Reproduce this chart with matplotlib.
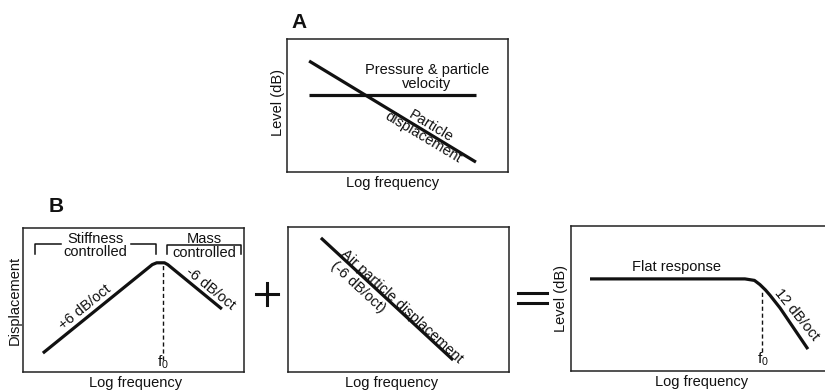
import matplotlib
matplotlib.use("Agg")
import matplotlib.pyplot as plt
from matplotlib.lines import Line2D

plt.rcParams['font.family'] = ['Liberation Sans', 'DejaVu Sans']
plt.rcParams['mathtext.default'] = 'regular'

W, H = 825, 390

# ---------------- data (x: log frequency in octaves, y: level in dB) -------------
# Panel A
a_disp_logf = [1.0, 8.55]
a_disp_level = [37.0, 3.3]
a_flat_logf = [1.0, 8.55]
a_flat_level = [25.7, 25.7]

# Panel B1: diaphragm displacement (resonant system)
b1_logf = [0.90, 5.85, 6.05, 6.40, 6.55, 9.00]
b1_disp = [6.3, 35.8, 36.4, 36.4, 35.8, 21.0]
b1_f0 = 6.33
b1_f0_range = [4.0, 36.3]

# Panel B2: air particle displacement
b2_logf = [1.49, 7.47]
b2_disp = [44.7, 4.0]

# Panel B3: resulting response
b3_logf = [0.86, 7.87, 8.30, 8.55, 8.80, 9.00, 9.46, 10.72]
b3_level = [30.7, 30.7, 30.2, 28.8, 27.0, 25.3, 21.0, 7.3]
b3_f0 = 8.64
b3_f0_range = [6.3, 26.3]

FS = 10.5

fig = plt.figure(figsize=(W / 100, H / 100), dpi=100)


def add_box(l, t, r, b):
    ax = fig.add_axes([l / W, 1 - b / H, (r - l) / W, (b - t) / H])
    ax.set_xticks([])
    ax.set_yticks([])
    for s in ax.spines.values():
        s.set_linewidth(1.1)
        s.set_color('#222222')
    return ax


def ftext(x, y, s, **kw):
    kw.setdefault('ha', 'center')
    kw.setdefault('va', 'center')
    kw.setdefault('fontsize', FS)
    kw.setdefault('color', '#111111')
    fig.text(x / W, 1 - y / H, s, **kw)


def fline(xs, ys, lw=1.1, **kw):
    fig.add_artist(Line2D([x / W for x in xs], [1 - y / H for y in ys],
                          lw=lw, color=kw.pop('color', '#111111'), **kw))


LW = 2.3
PX_PER_OCT = 22.1
PX_PER_DB = 3.0

# ---------------- Panel A ----------------
axA = add_box(287, 39, 508, 172)
axA.set_xlim(0, 221 / PX_PER_OCT)
axA.set_ylim(0, 133 / PX_PER_DB)
axA.plot(a_disp_logf, a_disp_level, color='#111111', lw=LW, solid_capstyle='butt')
axA.plot(a_flat_logf, a_flat_level, color='#111111', lw=LW, solid_capstyle='butt')
ftext(299, 22, 'A', fontsize=15, fontweight='bold')
ftext(427, 77, 'Pressure & particle\nvelocity', linespacing=0.95)
ftext(427, 132, 'Particle\ndisplacement', rotation=-31, rotation_mode='anchor',
      linespacing=0.95)
ftext(278, 102, 'Level (dB)', rotation=90)
ftext(393, 183, 'Log frequency')

# ---------------- Panel B1 ----------------
axB1 = add_box(23, 228, 244, 372)
axB1.set_xlim(0, 221 / PX_PER_OCT)
axB1.set_ylim(0, 144 / PX_PER_DB)
axB1.plot(b1_logf, b1_disp, color='#111111', lw=LW, solid_joinstyle='round',
          solid_capstyle='butt')
axB1.plot([b1_f0, b1_f0], b1_f0_range, color='#111111', lw=1.0, ls=(0, (3, 2)))
ftext(56, 207, 'B', fontsize=15, fontweight='bold')
ftext(15, 300, 'Displacement', rotation=90)
ftext(136, 383, 'Log frequency')
ftext(95, 239, 'Stiffness')
ftext(95, 252, 'controlled')
ftext(204, 239, 'Mass')
ftext(204, 253, 'controlled')
# brackets
fline([35, 35, 61], [254, 244, 244])
fline([131, 156, 156], [244, 244, 254])
fline([167, 167, 241, 241], [254, 245, 245, 254])
ftext(85, 307, '+6 dB/oct', rotation=39, rotation_mode='anchor')
ftext(210, 288, '-6 dB/oct', rotation=-39, rotation_mode='anchor')
ftext(163, 362, r'$f_0$', fontsize=11)

# plus sign
fline([256, 278], [294, 294], lw=2.2)
fline([267, 267], [283, 305], lw=2.2)

# ---------------- Panel B2 ----------------
axB2 = add_box(288, 227, 509, 372)
axB2.set_xlim(0, 221 / PX_PER_OCT)
axB2.set_ylim(0, 145 / PX_PER_DB)
axB2.plot(b2_logf, b2_disp, color='#111111', lw=LW, solid_capstyle='butt')
ftext(402, 306, 'Air particle displacement', rotation=-42.7, rotation_mode='anchor')
ftext(358, 287, '(-6 dB/oct)', rotation=-42.7, rotation_mode='anchor')
ftext(392, 383, 'Log frequency')

# equals sign
fline([518, 547], [293, 293], lw=2.2)
fline([518, 547], [303, 303], lw=2.2)

# ---------------- Panel B3 ----------------
axB3 = add_box(571, 226, 827, 371)
axB3.set_xlim(0, 256 / PX_PER_OCT)
axB3.set_ylim(0, 145 / PX_PER_DB)
axB3.plot(b3_logf, b3_level, color='#111111', lw=LW, solid_joinstyle='round',
          solid_capstyle='butt')
axB3.plot([b3_f0, b3_f0], b3_f0_range, color='#111111', lw=1.0, ls=(0, (3, 2)))
ftext(676, 267, 'Flat response')
ftext(797, 315, '12 dB/oct', rotation=-51, rotation_mode='anchor')
ftext(763, 359, r'$f_0$', fontsize=11)
ftext(561, 298, 'Level (dB)', rotation=90)
ftext(702, 382, 'Log frequency')

fig.savefig('out.png', dpi=100, facecolor='white')
